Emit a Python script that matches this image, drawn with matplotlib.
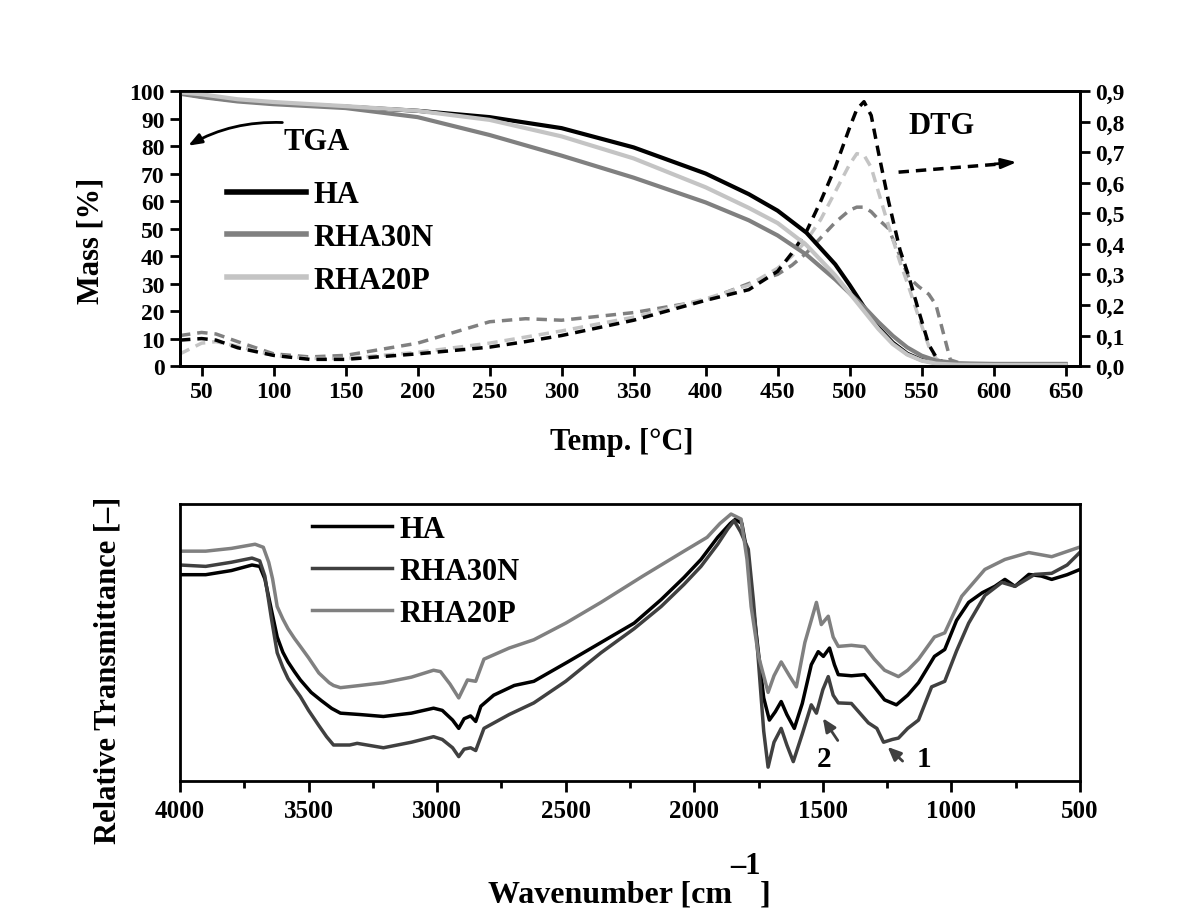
import matplotlib
matplotlib.use("Agg")
import matplotlib.pyplot as plt
from matplotlib.ticker import MultipleLocator, FuncFormatter

plt.rcParams["font.family"] = ["Liberation Serif", "DejaVu Serif"]
plt.rcParams["font.weight"] = "bold"

# ---- TGA (mass %, left axis) ----
temp_tga = [35, 50, 75, 100, 150, 200, 250, 300, 350, 400, 430, 450, 470, 490,
            500, 510, 520, 530, 540, 550, 560, 575, 600, 650]
mass_ha = [99.3, 98, 96.5, 95.5, 94.3, 92.8, 90.5, 86.5, 79.5, 70, 62.5, 56.5, 48.5, 37,
           29.5, 21.5, 14, 8.5, 4.5, 2.2, 1.2, 0.8, 0.6, 0.5]
mass_rha30n = [99, 97.8, 96.2, 95.2, 93.8, 90.5, 84, 76.5, 68.5, 59.5, 53, 47.5, 40.5, 31.5,
               26.5, 21.5, 16, 11, 6.8, 3.8, 2, 1, 0.8, 0.8]
mass_rha20p = [99.5, 98.8, 97, 96, 94.5, 92.8, 89.5, 83.5, 75.5, 65, 57.5, 52, 44, 33,
               26.5, 20, 13.5, 8, 4.2, 2, 0.9, 0.5, 0.4, 0.4]

# ---- DTG (right axis) ----
temp_dtg = [35, 50, 60, 75, 100, 125, 150, 200, 250, 275, 300, 350, 400, 430, 450, 460,
            470, 480, 490, 500, 505, 510, 515, 520, 527, 535, 541, 548, 555, 560, 565,
            570, 580, 600, 650]
dtg_ha = [0.085, 0.09, 0.085, 0.06, 0.035, 0.022, 0.022, 0.04, 0.062, 0.08, 0.1, 0.15,
          0.215, 0.25, 0.31, 0.37, 0.44, 0.54, 0.65, 0.78, 0.84, 0.865, 0.82, 0.70, 0.54,
          0.38, 0.295, 0.18, 0.07, 0.03, 0.012, 0.006, 0.004, 0.003, 0.003]
dtg_rha30n = [0.10, 0.11, 0.105, 0.08, 0.04, 0.03, 0.035, 0.075, 0.145, 0.155, 0.15, 0.175,
              0.215, 0.27, 0.30, 0.33, 0.37, 0.42, 0.47, 0.51, 0.52, 0.52, 0.505, 0.48,
              0.45, 0.36, 0.29, 0.26, 0.235, 0.2, 0.11, 0.02, 0.005, 0.004, 0.004]
dtg_rha20p = [0.04, 0.075, 0.08, 0.065, 0.035, 0.025, 0.025, 0.045, 0.075, 0.095, 0.115,
              0.16, 0.22, 0.265, 0.32, 0.36, 0.41, 0.48, 0.57, 0.66, 0.695, 0.69, 0.65,
              0.57, 0.46, 0.34, 0.26, 0.16, 0.065, 0.025, 0.008, 0.004, 0.003, 0.003, 0.003]

# ---- FTIR ----
wn_ha = [4000, 3900, 3800, 3720, 3690, 3670, 3645, 3622, 3600, 3580, 3555, 3532, 3490,
         3450, 3410, 3376, 3300, 3209, 3100, 3014, 2980, 2940, 2916, 2895, 2870, 2850,
         2830, 2780, 2700, 2624, 2492, 2363, 2234, 2129, 2040, 1974, 1909, 1860, 1840,
         1815, 1790, 1770, 1752, 1730, 1708, 1685, 1662, 1640, 1611, 1580, 1545, 1518,
         1498, 1474, 1455, 1440, 1389, 1338, 1300, 1260, 1214, 1170, 1128, 1066, 1026,
         980, 933, 880, 831, 792, 753, 699, 650, 610, 550, 500]
tr_ha = [0.745, 0.745, 0.76, 0.78, 0.775, 0.73, 0.62, 0.52, 0.465, 0.43, 0.395, 0.365, 0.32,
         0.29, 0.262, 0.245, 0.24, 0.233, 0.245, 0.263, 0.255, 0.22, 0.19, 0.225, 0.235,
         0.215, 0.27, 0.31, 0.345, 0.36, 0.43, 0.5, 0.57, 0.655, 0.735, 0.80, 0.88, 0.93,
         0.945, 0.93, 0.80, 0.62, 0.475, 0.3, 0.22, 0.25, 0.287, 0.24, 0.19, 0.28, 0.42,
         0.467, 0.45, 0.48, 0.42, 0.384, 0.38, 0.384, 0.34, 0.293, 0.275, 0.31, 0.355, 0.45,
         0.475, 0.58, 0.645, 0.68, 0.703, 0.728, 0.703, 0.746, 0.74, 0.728, 0.745, 0.764]

wn_rha30n = [4000, 3900, 3800, 3720, 3690, 3670, 3645, 3622, 3600, 3580, 3555, 3532, 3500,
             3460, 3430, 3403, 3340, 3311, 3209, 3100, 3014, 2980, 2940, 2916, 2895, 2870,
             2850, 2818, 2720, 2624, 2500, 2363, 2234, 2129, 2040, 1974, 1909, 1870, 1845,
             1820, 1790, 1770, 1752, 1730, 1713, 1690, 1662, 1640, 1615, 1580, 1545, 1525,
             1500, 1479, 1460, 1440, 1389, 1323, 1290, 1264, 1230, 1206, 1170, 1128, 1077,
             1026, 980, 933, 870, 804, 753, 676, 610, 550, 500]
tr_rha30n = [0.78, 0.775, 0.79, 0.805, 0.795, 0.74, 0.59, 0.463, 0.41, 0.37, 0.335, 0.305,
             0.255, 0.2, 0.16, 0.13, 0.13, 0.136, 0.12, 0.14, 0.16, 0.15, 0.12, 0.088, 0.115,
             0.12, 0.11, 0.19, 0.24, 0.282, 0.36, 0.463, 0.55, 0.63, 0.71, 0.775, 0.855,
             0.91, 0.94, 0.9, 0.837, 0.65, 0.45, 0.18, 0.05, 0.14, 0.19, 0.13, 0.07, 0.17,
             0.275, 0.245, 0.33, 0.377, 0.31, 0.282, 0.28, 0.21, 0.19, 0.14, 0.15, 0.155,
             0.19, 0.22, 0.34, 0.36, 0.47, 0.57, 0.67, 0.717, 0.703, 0.746, 0.75, 0.78, 0.826]

wn_rha20p = [4000, 3900, 3800, 3708, 3676, 3655, 3640, 3622, 3600, 3580, 3555, 3532, 3500,
             3460, 3420, 3403, 3376, 3300, 3209, 3100, 3014, 2987, 2950, 2916, 2882, 2850,
             2818, 2720, 2624, 2500, 2363, 2200, 2040, 1950, 1900, 1857, 1818, 1795, 1779,
             1750, 1713, 1690, 1662, 1630, 1603, 1570, 1525, 1506, 1479, 1460, 1440, 1389,
             1338, 1300, 1260, 1206, 1170, 1128, 1066, 1026, 960, 870, 792, 699, 610, 500]
tr_rha20p = [0.83, 0.83, 0.84, 0.855, 0.844, 0.79, 0.73, 0.63, 0.585, 0.55, 0.515, 0.486,
             0.445, 0.39, 0.355, 0.345, 0.337, 0.345, 0.355, 0.375, 0.40, 0.395, 0.35, 0.30,
             0.365, 0.36, 0.44, 0.48, 0.51, 0.57, 0.645, 0.74, 0.83, 0.88, 0.93, 0.964, 0.946,
             0.80, 0.63, 0.45, 0.32, 0.38, 0.43, 0.38, 0.34, 0.5, 0.645, 0.565, 0.595, 0.52,
             0.486, 0.49, 0.485, 0.44, 0.40, 0.377, 0.40, 0.44, 0.52, 0.535, 0.667, 0.764,
             0.80, 0.825, 0.81, 0.845]

labels = ["HA", "RHA30N", "RHA20P"]
top_colors = ["#000000", "#808080", "#c4c4c4"]
bot_colors = ["#000000", "#404040", "#808080"]

fig = plt.figure(figsize=(12, 9.2), dpi=100)
ax1 = fig.add_axes([0.15, 0.601, 0.75, 0.299])
ax2 = ax1.twinx()
ax3 = fig.add_axes([0.15, 0.15, 0.75, 0.301])

# DTG first (behind), then TGA
for y, c in zip([dtg_rha30n, dtg_rha20p, dtg_ha], [top_colors[1], top_colors[2], top_colors[0]]):
    ax2.plot(temp_dtg, y, color=c, lw=2.5, ls=(0, (3, 2)))
for y, c, lab in zip([mass_ha, mass_rha30n, mass_rha20p], top_colors, labels):
    ax1.plot(temp_tga, y, color=c, lw=3, label=lab)
ax1.set_zorder(ax2.get_zorder() + 1)
ax1.patch.set_visible(False)

ax1.set_xlim(35, 660)
ax1.set_ylim(0, 100)
ax2.set_ylim(0, 0.9)
ax1.xaxis.set_major_locator(MultipleLocator(50))
ax1.xaxis.set_major_formatter(FuncFormatter(lambda v, p: f"{int(v)}" if v >= 50 else ""))
ax1.yaxis.set_major_locator(MultipleLocator(10))
ax2.yaxis.set_major_locator(MultipleLocator(0.1))
ax2.yaxis.set_major_formatter(FuncFormatter(lambda v, p: f"{v:.1f}".replace(".", ",")))
for a in (ax1, ax2):
    a.tick_params(direction="out", length=7, width=2, labelsize=17, pad=4)
    for s in a.spines.values():
        s.set_linewidth(2)

leg = ax1.legend(loc="upper left", bbox_to_anchor=(0.052, 0.675), frameon=False,
                 handlelength=2.6, handletextpad=0.25, labelspacing=0.45,
                 borderpad=0, borderaxespad=0, prop={"size": 22, "weight": "bold"})
for h in leg.get_lines():
    h.set_linewidth(4)

# TGA / DTG annotations
ax1.text(129.5, 81.8, "TGA", fontsize=22, ha="center", va="center")
ax1.annotate("", xy=(39, 79.6), xytext=(108, 88.5),
             arrowprops=dict(arrowstyle="-|>,head_length=0.8,head_width=0.3", color="black",
                             lw=2, connectionstyle="arc3,rad=0.15"))
ax1.text(564, 87.6, "DTG", fontsize=22, ha="center", va="center")
ax1.plot([534, 603], [70.5, 73.4], color="black", lw=2.5, ls=(0, (3, 2)))
ax1.annotate("", xy=(618, 74.2), xytext=(599, 73.4),
             arrowprops=dict(arrowstyle="-|>,head_length=0.9,head_width=0.3", color="black", lw=2))

fig.text(622 / 1200, 1 - 443 / 920, "Temp. [°C]", fontsize=22, ha="center", va="center")
fig.text(91 / 1200, 1 - 241 / 920, "Mass [%]", fontsize=22, ha="center", va="center", rotation=90)

# FTIR
for wn, tr, c, lab in zip([wn_ha, wn_rha30n, wn_rha20p], [tr_ha, tr_rha30n, tr_rha20p], bot_colors, labels):
    ax3.plot(wn, tr, color=c, lw=2.5, label=lab)
ax3.set_xlim(4000, 500)
ax3.set_ylim(0, 1)
ax3.set_yticks([])
ax3.xaxis.set_major_locator(MultipleLocator(500))
ax3.xaxis.set_minor_locator(MultipleLocator(250))
ax3.tick_params(axis="x", which="major", direction="out", length=8, width=2, labelsize=18, pad=5)
ax3.tick_params(axis="x", which="minor", direction="out", length=5, width=2)
for s in ax3.spines.values():
    s.set_linewidth(2)
ax3.legend(loc="upper left", bbox_to_anchor=(0.147, 0.96), frameon=False,
           handlelength=2.6, handletextpad=0.25, labelspacing=0.42,
           borderpad=0, borderaxespad=0, prop={"size": 22, "weight": "bold"})

arrow_kw = dict(arrowstyle="-|>,head_length=0.8,head_width=0.35", color="#404040", lw=2)
ax3.annotate("", xy=(1506, 0.235), xytext=(1436, 0.138), arrowprops=arrow_kw)
ax3.text(1494, 0.083, "2", fontsize=21, ha="center", va="center")
ax3.annotate("", xy=(1256, 0.13), xytext=(1182, 0.065), arrowprops=arrow_kw)
ax3.text(1108, 0.083, "1", fontsize=21, ha="center", va="center")

fig.text(108 / 1200, 1 - 670 / 920, "Relative Transmittance [\u2013]", fontsize=22,
         ha="center", va="center", rotation=90)
fig.text(488 / 1200, 1 - 895 / 920, "Wavenumber [cm", fontsize=23, ha="left", va="center")
fig.text(760 / 1200, 1 - 895 / 920, "]", fontsize=23, ha="left", va="center")
fig.text(730 / 1200, 1 - 867 / 920, "\u20131", fontsize=22, ha="left", va="center")

fig.savefig("out.png", dpi=100)
